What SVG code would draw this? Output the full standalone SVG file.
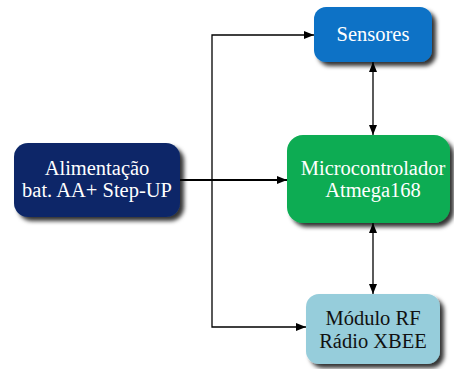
<svg xmlns="http://www.w3.org/2000/svg" width="454" height="369" viewBox="0 0 454 369">
<defs>
<filter id="sh" x="-10%" y="-10%" width="130%" height="140%">
<feDropShadow dx="4" dy="4" stdDeviation="2" flood-color="#000" flood-opacity="0.8"/>
</filter>
<marker id="ah" viewBox="0 0 10 8" refX="10" refY="4" markerWidth="10" markerHeight="8" markerUnits="userSpaceOnUse" orient="auto-start-reverse">
<path d="M0,0 L10,4 L0,8 Z" fill="#000"/>
</marker>
</defs>
<style>
.box{filter:url(#sh)}
.t{font-family:"Liberation Serif","Times New Roman",serif;font-size:20.5px;text-anchor:middle}
.w{fill:#fff}
.k{fill:#111}
.c{fill:none;stroke:#000;stroke-width:1.3}
</style>
<g id="connectors">
<path class="c" d="M180,180 L287,180" style="stroke-width:2"/>
<path class="c" d="M212,180 L212,35 L314,35" marker-end="url(#ah)"/>
<path class="c" d="M212,180 L212,327 L306,327" marker-end="url(#ah)"/>
<path class="c" d="M212,180 L287,180" marker-end="url(#ah)"/>
<path class="c" d="M373,62 L373,135" marker-start="url(#ah)" marker-end="url(#ah)"/>
<path class="c" d="M373,223 L373,294" marker-start="url(#ah)" marker-end="url(#ah)"/>
</g>
<g id="alimentacao">
<rect class="box" x="14" y="143" width="166" height="74" rx="14" fill="#0b2868"/>
<text class="t w" x="97" y="175">Alimentação</text>
<text class="t w" x="97" y="197">bat. AA+ Step-UP</text>
</g>
<g id="sensores">
<rect class="box" x="314" y="7" width="118" height="55" rx="12" fill="#0a72c6"/>
<text class="t w" x="373" y="41">Sensores</text>
</g>
<g id="microcontrolador">
<rect class="box" x="287" y="135" width="163" height="88" rx="16" fill="#0aac52"/>
<text class="t w" x="373" y="175">Microcontrolador</text>
<text class="t w" x="373" y="197">Atmega168</text>
</g>
<g id="modulo">
<rect class="box" x="306" y="294" width="134" height="70" rx="13" fill="#96cddb"/>
<text class="t k" x="373" y="325">Módulo RF</text>
<text class="t k" x="373" y="348">Rádio XBEE</text>
</g>
</svg>
